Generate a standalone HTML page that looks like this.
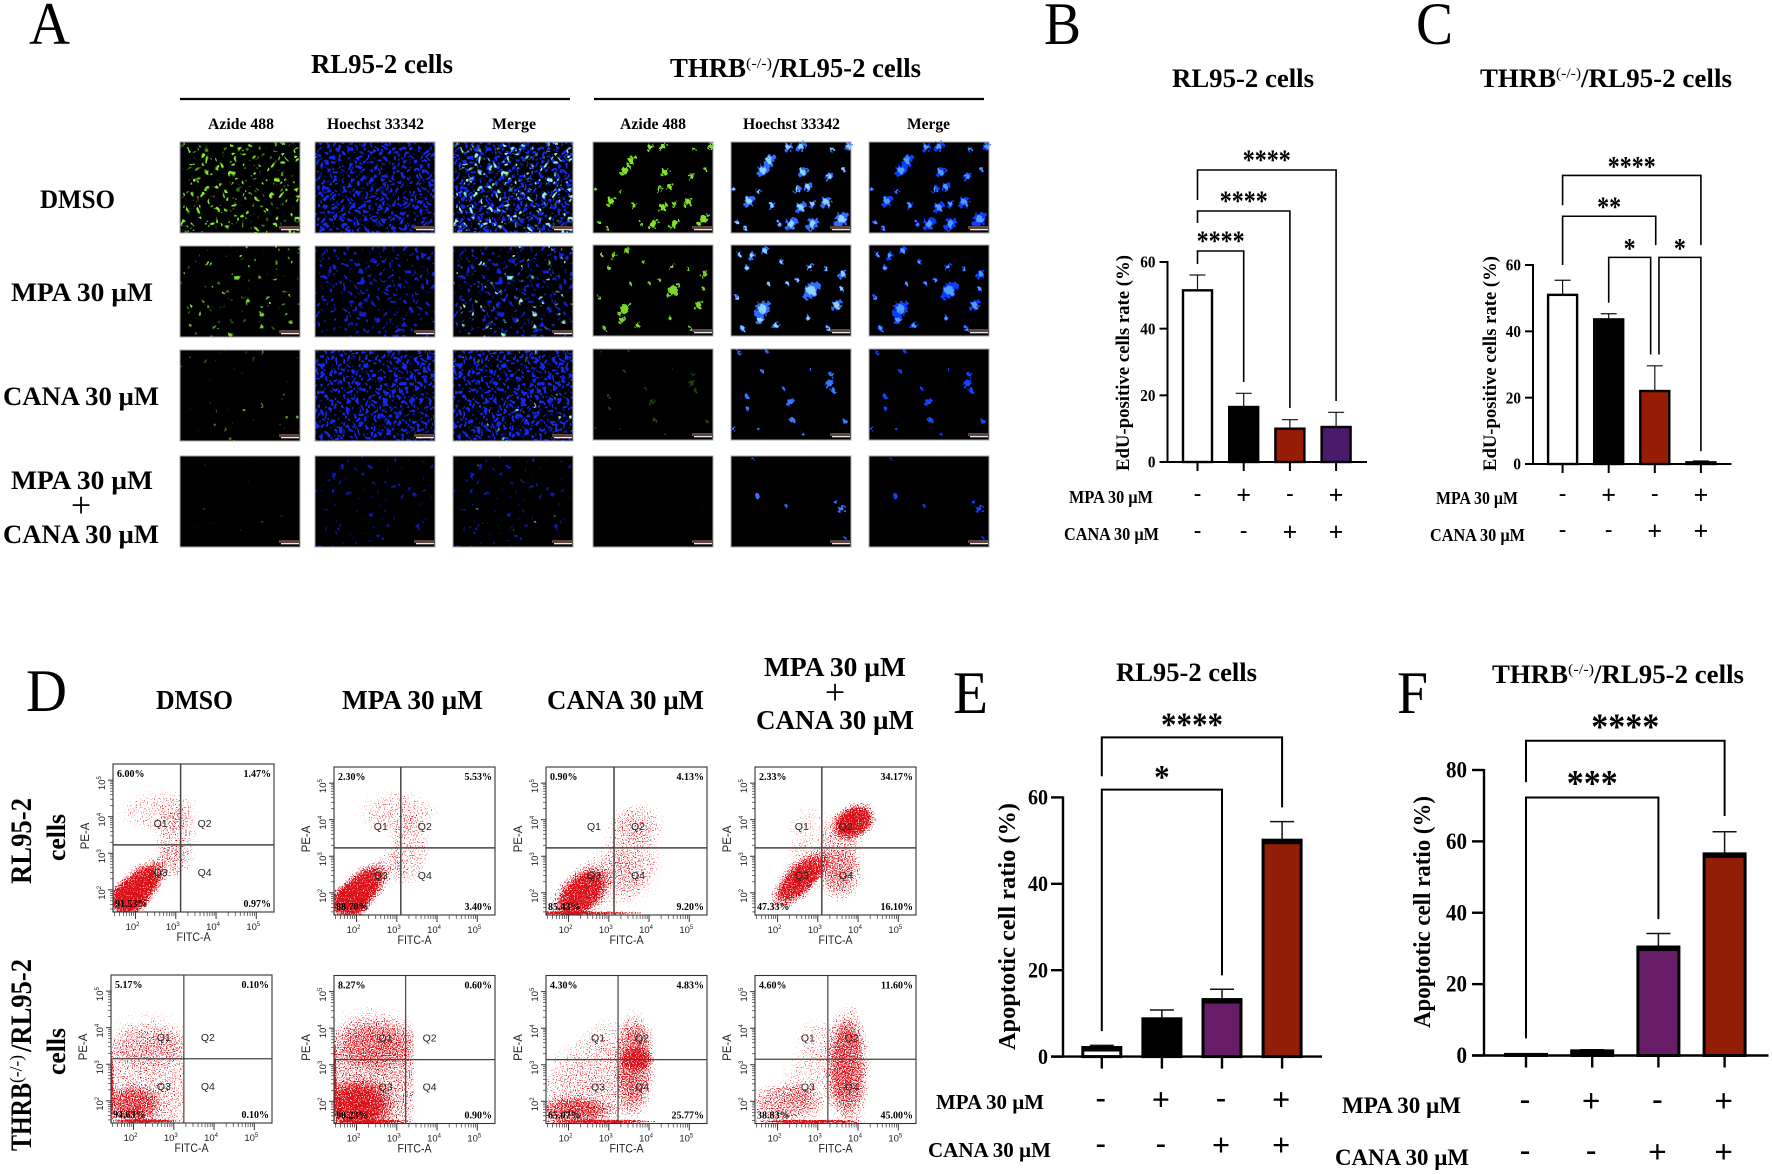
<!DOCTYPE html>
<html lang="en">
<head>
<meta charset="utf-8">
<title>EdU proliferation and apoptosis figure</title>
<style>
html,body{margin:0;padding:0;background:#fff;width:1772px;height:1174px;overflow:hidden}
svg{display:block}
svg text{font-family:"Liberation Serif","Noto Serif CJK SC",serif;font-weight:bold;fill:#000}
svg text.plain{font-weight:normal}
svg text.sans{font-family:"Liberation Sans","Noto Sans CJK SC",sans-serif;font-weight:normal;fill:#222}
</style>
</head>
<body>
<svg id="figure" xmlns="http://www.w3.org/2000/svg" width="1772" height="1174" viewBox="0 0 1772 1174">
<defs id="defs">
<radialGradient id="density-falloff"><stop offset="0" stop-color="#fff" stop-opacity="1"/><stop offset="0.55" stop-color="#fff" stop-opacity="0.85"/><stop offset="1" stop-color="#fff" stop-opacity="0"/></radialGradient>
<filter id="rough-edge" x="-5%" y="-5%" width="110%" height="110%"><feTurbulence type="fractalNoise" baseFrequency="0.35" numOctaves="1" seed="4" result="n"/><feDisplacementMap in="SourceGraphic" in2="n" scale="7"/></filter>
<clipPath id="panel-clip"><rect width="120" height="91"/></clipPath>
</defs>
<rect width="1772" height="1174" fill="#fff"/>

<text class="plain" x="29" y="44" font-size="60" textLength="41" lengthAdjust="spacingAndGlyphs">A</text>
<text class="plain" x="1044" y="44" font-size="60" textLength="37" lengthAdjust="spacingAndGlyphs">B</text>
<text class="plain" x="1416" y="44" font-size="60" textLength="37" lengthAdjust="spacingAndGlyphs">C</text>
<text class="plain" x="26" y="711" font-size="60" textLength="41" lengthAdjust="spacingAndGlyphs">D</text>
<text class="plain" x="953" y="713" font-size="60" textLength="35" lengthAdjust="spacingAndGlyphs">E</text>
<text class="plain" x="1397" y="713" font-size="60" textLength="31" lengthAdjust="spacingAndGlyphs">F</text>

<text x="311" y="73" font-size="27" textLength="142" lengthAdjust="spacingAndGlyphs">RL95-2 cells</text>
<g>
<text x="670" y="77" font-size="27" textLength="76" lengthAdjust="spacingAndGlyphs">THRB</text>
<text class="plain" x="746" y="68" font-size="15" textLength="26" lengthAdjust="spacingAndGlyphs">(-/-)</text>
<text x="772" y="77" font-size="27" textLength="149" lengthAdjust="spacingAndGlyphs">/RL95-2 cells</text>
</g>
<line x1="180" x2="570" y1="99" y2="99" stroke="#000" stroke-width="2.2"/>
<line x1="594" x2="984" y1="99" y2="99" stroke="#000" stroke-width="2.2"/>

<text x="208" y="129" font-size="15.5" textLength="66" lengthAdjust="spacingAndGlyphs">Azide 488</text>
<text x="327" y="129" font-size="15.5" textLength="97" lengthAdjust="spacingAndGlyphs">Hoechst 33342</text>
<text x="492" y="129" font-size="15.5" textLength="44" lengthAdjust="spacingAndGlyphs">Merge</text>
<text x="620" y="129" font-size="15.5" textLength="66" lengthAdjust="spacingAndGlyphs">Azide 488</text>
<text x="743" y="129" font-size="15.5" textLength="97" lengthAdjust="spacingAndGlyphs">Hoechst 33342</text>
<text x="907" y="129" font-size="15.5" textLength="43" lengthAdjust="spacingAndGlyphs">Merge</text>

<text x="40" y="208" font-size="26" textLength="75" lengthAdjust="spacingAndGlyphs">DMSO</text>
<text x="11" y="301" font-size="26" textLength="142" lengthAdjust="spacingAndGlyphs">MPA 30 µM</text>
<text x="3" y="405" font-size="26" textLength="156" lengthAdjust="spacingAndGlyphs">CANA 30 µM</text>
<text x="11" y="489" font-size="26" textLength="142" lengthAdjust="spacingAndGlyphs">MPA 30 µM</text>
<text class="plain" x="81" y="517" font-size="36" text-anchor="middle">+</text>
<text x="3" y="543" font-size="26" textLength="156" lengthAdjust="spacingAndGlyphs">CANA 30 µM</text>

<text x="1172" y="87" font-size="26" textLength="142" lengthAdjust="spacingAndGlyphs">RL95-2 cells</text>
<g>
<text x="1480" y="87" font-size="26" textLength="76" lengthAdjust="spacingAndGlyphs">THRB</text>
<text class="plain" x="1556" y="78" font-size="15" textLength="25" lengthAdjust="spacingAndGlyphs">(-/-)</text>
<text x="1581" y="87" font-size="26" textLength="151" lengthAdjust="spacingAndGlyphs">/RL95-2 cells</text>
</g>
<text transform="translate(1129,471) rotate(-90)" font-size="19" textLength="216" lengthAdjust="spacingAndGlyphs">EdU-positive cells rate (%)</text>
<text transform="translate(1496,471) rotate(-90)" font-size="19" textLength="215" lengthAdjust="spacingAndGlyphs">EdU-positive cells rate (%)</text>
<text x="1069" y="503" font-size="18" textLength="84" lengthAdjust="spacingAndGlyphs">MPA 30 µM</text>
<text x="1064" y="540" font-size="18" textLength="95" lengthAdjust="spacingAndGlyphs">CANA 30 µM</text>
<text x="1436" y="504" font-size="18" textLength="82" lengthAdjust="spacingAndGlyphs">MPA 30 µM</text>
<text x="1430" y="541" font-size="18" textLength="95" lengthAdjust="spacingAndGlyphs">CANA 30 µM</text>

<text x="156" y="709" font-size="27" textLength="77" lengthAdjust="spacingAndGlyphs">DMSO</text>
<text x="342" y="709" font-size="27" textLength="141" lengthAdjust="spacingAndGlyphs">MPA 30 µM</text>
<text x="547" y="709" font-size="27" textLength="157" lengthAdjust="spacingAndGlyphs">CANA 30 µM</text>
<text x="764" y="676" font-size="27" textLength="142" lengthAdjust="spacingAndGlyphs">MPA 30 µM</text>
<text class="plain" x="835" y="704" font-size="36" text-anchor="middle">+</text>
<text x="756" y="729" font-size="27" textLength="158" lengthAdjust="spacingAndGlyphs">CANA 30 µM</text>

<text transform="translate(31,884) rotate(-90)" font-size="30" textLength="86" lengthAdjust="spacingAndGlyphs">RL95-2</text>
<text transform="translate(65,861) rotate(-90)" font-size="26" textLength="47" lengthAdjust="spacingAndGlyphs">cells</text>
<g>
<text transform="translate(31,1151) rotate(-90)" font-size="30" textLength="68" lengthAdjust="spacingAndGlyphs">THRB</text>
<text class="plain" transform="translate(22,1083) rotate(-90)" font-size="18" textLength="28" lengthAdjust="spacingAndGlyphs">(-/-)</text>
<text transform="translate(31,1052) rotate(-90)" font-size="30" textLength="93" lengthAdjust="spacingAndGlyphs">/RL95-2</text>
</g>
<text transform="translate(65,1075) rotate(-90)" font-size="26" textLength="47" lengthAdjust="spacingAndGlyphs">cells</text>

<text x="1116" y="681" font-size="26" textLength="141" lengthAdjust="spacingAndGlyphs">RL95-2 cells</text>
<g>
<text x="1492" y="683" font-size="26" textLength="76" lengthAdjust="spacingAndGlyphs">THRB</text>
<text class="plain" x="1568" y="674" font-size="15" textLength="26" lengthAdjust="spacingAndGlyphs">(-/-)</text>
<text x="1594" y="683" font-size="26" textLength="150" lengthAdjust="spacingAndGlyphs">/RL95-2 cells</text>
</g>
<text transform="translate(1015,1050) rotate(-90)" font-size="24" textLength="247" lengthAdjust="spacingAndGlyphs">Apoptotic cell ratio (%)</text>
<text transform="translate(1430,1028) rotate(-90)" font-size="24" textLength="232" lengthAdjust="spacingAndGlyphs">Apoptotic cell ratio (%)</text>
<text x="936" y="1109" font-size="21" textLength="108" lengthAdjust="spacingAndGlyphs">MPA 30 µM</text>
<text x="928" y="1157" font-size="21" textLength="123" lengthAdjust="spacingAndGlyphs">CANA 30 µM</text>
<text x="1342" y="1113" font-size="23" textLength="119" lengthAdjust="spacingAndGlyphs">MPA 30 µM</text>
<text x="1335" y="1165" font-size="23" textLength="134" lengthAdjust="spacingAndGlyphs">CANA 30 µM</text>

<g id="microscopy-layer"></g>
<g id="flow-layer"></g>
<g id="bar-layer"></g>
</svg>

<script>
// ---------- Panels B, C, E, F: bar chart data ----------
const mpaSigns = ['-', '+', '-', '+'];
const canaSigns = ['-', '-', '+', '+'];

const panelBValues = [51.5, 16.5, 10, 10.5];
const panelBErrors = [4.6, 4.1, 2.7, 4.4];
const panelBTicks = [0, 20, 40, 60];
const panelBBrackets = [[0, 1, 63.3, 59.4, 24, '****'], [0, 2, 75.3, 71.7, 16.2, '****'], [0, 3, 87.6, 78.6, 18.3, '****']];

const panelCValues = [51, 43.6, 22, 0.5];
const panelCErrors = [4.4, 1.7, 7.6, 0.4];
const panelCTicks = [0, 20, 40, 60];
const panelCBrackets = [[0, 3, 87, 78, 66, '****'], [0, 2.02, 74.7, 60, 66, '**'], [1, 1.91, 62.3, 48.6, 33, '*'], [2.09, 3, 62.3, 33, 3.9, '*']];

const panelEValues = [2.1, 8.75, 13.2, 50.1];
const panelEErrors = [0.5, 2.05, 2.4, 4.3];
const panelETicks = [0, 20, 40, 60];
const panelEBrackets = [[0, 3, 73.9, 64.9, 57.7, '****'], [0, 2, 61.8, 5.9, 18.8, '*']];

const panelFValues = [0.3, 1.3, 30.4, 56.5];
const panelFErrors = [0.2, 0.3, 3.8, 6.2];
const panelFTicks = [0, 20, 40, 60, 80];
const panelFBrackets = [[0, 3, 88.2, 76.6, 67.1, '****'], [0, 2, 72.3, 4.8, 38.2, '***']];

// ---------- Panel D: flow cytometry data (log10 FITC, log10 PE, spread x, spread y, tilt, density) ----------
const flowDecades = [2, 3, 4, 5];
const rl95DmsoClusters = [[2.09, 2.08, 0.95, 0.5, -45, 1], [1.8, 1.75, 0.6, 0.5, 0, 0.9], [2.6, 4.15, 1.15, 0.6, 0, 0.25], [3.0, 3.4, 0.6, 1.0, 0, 0.3], [2.85, 2.75, 0.55, 0.55, 0, 0.22]];
const rl95MpaClusters = [[2.12, 2.1, 0.95, 0.5, -45, 1], [1.8, 1.75, 0.6, 0.5, 0, 0.9], [3.05, 4.2, 1.15, 0.6, 0, 0.28], [3.3, 3.15, 0.6, 1.05, 0, 0.28], [2.85, 2.7, 0.5, 0.5, 0, 0.2]];
const rl95CanaClusters = [[2.3, 1.95, 1.0, 0.6, -45, 0.95], [1.95, 1.45, 2.4, 0.05, 0, 0.9], [3.6, 3.0, 0.85, 1.3, 0, 0.3], [3.7, 3.9, 0.8, 0.6, 0, 0.22], [3.0, 2.4, 1.0, 0.9, 0, 0.24]];
const rl95ComboClusters = [[2.55, 2.35, 1.05, 0.45, -45, 0.95], [3.9, 3.95, 0.65, 0.48, -30, 1], [3.55, 3.05, 0.65, 1.2, 0, 0.38], [3.5, 2.5, 0.65, 0.8, 0, 0.32], [2.8, 3.7, 0.65, 0.75, 0, 0.18], [2.6, 2.8, 0.5, 0.6, 0, 0.22]];
const thrbDmsoClusters = [[2.4, 2.6, 1.6, 1.9, 0, 0.34], [2.0, 1.9, 0.8, 0.55, 0, 0.6], [2.4, 3.5, 1.3, 0.6, 0, 0.24], [2.3, 1.45, 1.0, 0.05, 0, 1], [1.46, 2.4, 0.05, 1.0, 0, 0.9]];
const thrbMpaClusters = [[2.4, 2.6, 1.7, 2.0, 0, 0.46], [2.0, 1.9, 1.0, 0.7, 0, 0.8], [2.5, 3.6, 1.3, 0.75, 0, 0.38], [2.4, 1.45, 1.1, 0.05, 0, 1], [1.46, 2.6, 0.05, 1.1, 0, 0.9]];
const thrbCanaClusters = [[3.65, 3.0, 0.55, 1.5, 0, 0.56], [2.6, 2.4, 1.5, 1.3, 0, 0.34], [2.1, 1.75, 1.1, 0.4, 0, 0.6], [3.2, 3.7, 1.1, 0.6, 0, 0.22], [3.7, 3.15, 0.45, 0.35, 0, 0.7], [2.8, 1.45, 1.6, 0.05, 0, 1]];
const thrbComboClusters = [[3.75, 2.9, 0.6, 1.7, 0, 0.66], [2.2, 1.95, 1.0, 0.6, 0, 0.5], [3, 2.6, 1.0, 1.0, 0, 0.24], [3.3, 3.7, 1.0, 0.6, 0, 0.22], [2.8, 1.45, 1.6, 0.05, 0, 1]];
const flowGateX = [3.12, 3.10, 3.13, 3.10, 3.25, 3.22, 3.23, 3.25];
const flowGateY = [3.23, 3.23, 3.23, 3.23, 3.15, 3.14, 3.14, 3.15];
const flowEventLimitX = [5.5, 5.5, 5.5, 5.5, 3.27, 3.42, 4.25, 4.35];
const flowQ1Labels = ['6.00%', '2.30%', '0.90%', '2.33%', '5.17%', '8.27%', '4.30%', '4.60%'];
const flowQ2Labels = ['1.47%', '5.53%', '4.13%', '34.17%', '0.10%', '0.60%', '4.83%', '11.60%'];
const flowQ3Labels = ['91.53%', '88.70%', '85.43%', '47.33%', '94.63%', '90.23%', '65.07%', '38.83%'];
const flowQ4Labels = ['0.97%', '3.40%', '9.20%', '16.10%', '0.10%', '0.90%', '25.77%', '45.00%'];

// ---------- Panel A: microscopy field estimates ----------
const rl95HoechstSpacing = [9, 11, 9, 15];
const rl95HoechstCutoff = [0.34, 0.42, 0.32, 0.5];
const rl95AzideSpacing = [10, 12, 13, 14];
const rl95AzideCutoff = [0.49, 0.57, 0.63, 0.7];
const rl95HoechstLevel = ['#1128ee', '#0f22d8', '#1128ee', '#0d1cc0'];
const rl95AzideLevel = ['#86f02a', '#78dc26', '#5fb01e', '#3f7a14'];
const thrbFieldDmso = [[32,20,5],[27,31,5],[48,6,3.5],[58,5,4],[60,33,4],[82,38,3.5],[64,49,3.5],[55,52,3],[15,65,4.5],[34,70,3],[58,72,4.5],[79,66,4.5],[92,85,6],[50,90,5],[68,90,5],[23,54,2.5],[2,52,2],[94,30,2.5],[98,5,3],[84,8,2.5],[40,90,2.5],[12,95,2.5],[5,88,2],[68,68,3]];
const thrbFieldMpa = [[7,10,2.5],[17,12,3],[28,6,3],[42,18,2.5],[66,24,3],[79,26,2.5],[93,32,3.5],[67,50,7],[26,70,6.5],[88,66,4.5],[5,58,2.5],[24,82,3.5],[64,80,2.5],[37,88,3],[10,92,2.5],[47,42,2],[31,42,2],[92,48,2.5],[81,92,2.5],[13,25,2.5],[55,38,2]];
const thrbFieldCana = [[82,38,3.5],[84,28,2.5],[85,45,2.5],[49,58,3],[13,52,2],[14,66,2],[51,78,2.5],[2,87,2],[23,88,1.5],[95,80,2.5],[44,44,1.5],[26,24,1.5],[66,22,1.5],[7,4,2],[60,94,1.5],[30,3,1.5]];
const thrbFieldCombo = [[22,44,2.5],[92,58,3],[46,55,1.5],[87,50,2],[18,3,1],[95,90,1]];
const thrbAzideStrength = [1, 0.95, 0.3, 0.03];
const thrbBrightBlue = [1, 1, 0.15, 0.1];

// ---------- helpers ----------
const SVGNS = 'http://www.w3.org/2000/svg';
function mk(tag, parent, attrs) {
  const el = document.createElementNS(SVGNS, tag);
  for (const k in attrs) el.setAttribute(k, attrs[k]);
  parent.appendChild(el);
  return el;
}
function line(parent, name, x1, y1, x2, y2, stroke, width) {
  const el = mk('line', parent, { x1: x1, y1: y1, x2: x2, y2: y2, stroke: stroke, 'stroke-width': width });
  
  
  return el;
}
function label(parent, name, str, x, y, size, extra) {
  const el = mk('text', parent, Object.assign({ x: x, y: y, 'font-size': size }, extra || {}));
  el.textContent = str;
  
  
  return el;
}
function group(parent, name, attrs) {
  const el = mk('g', parent, attrs || {});
  
  
  return el;
}
const defs = document.getElementById('defs');
let filterCount = 0;
function speckFilter(color, freq, seed, slope) {
  const id = 'speck-' + (filterCount++);
  const f = mk('filter', defs, { id: id, x: 0, y: 0, width: '100%', height: '100%', 'color-interpolation-filters': 'sRGB' });
  f.innerHTML =
    '<feTurbulence type="fractalNoise" baseFrequency="' + freq + '" numOctaves="1" seed="' + seed + '" result="n"/>' +
    '<feColorMatrix in="n" type="matrix" values="0 0 0 0 0  0 0 0 0 0  0 0 0 0 0  2.2 0 0 0 -0.6" result="na"/>' +
    '<feComposite in="SourceAlpha" in2="na" operator="arithmetic" k1="0" k2="1" k3="1" k4="-1" result="s"/>' +
    '<feComponentTransfer in="s" result="h"><feFuncA type="linear" slope="' + slope + '"/></feComponentTransfer>' +
    '<feFlood flood-color="' + color + '" result="c"/>' +
    '<feComposite in="c" in2="h" operator="in"/>';
  return 'url(#' + id + ')';
}
// Scatter a staggered dot lattice with low-frequency noise, then switch dots on/off: a nuclei monolayer look.
function nucleiFilter(color, seed, cutoff) {
  const id = 'nuclei-' + (filterCount++);
  const f = mk('filter', defs, { id: id, x: 0, y: 0, width: '100%', height: '100%', 'color-interpolation-filters': 'sRGB' });
  f.innerHTML =
    '<feTurbulence type="fractalNoise" baseFrequency="0.17" numOctaves="1" seed="' + seed + '" result="d"/>' +
    '<feDisplacementMap in="SourceAlpha" in2="d" scale="14" xChannelSelector="R" yChannelSelector="G" result="p"/>' +
    '<feTurbulence type="fractalNoise" baseFrequency="0.14" numOctaves="1" seed="' + (seed + 7) + '" result="m"/>' +
    '<feColorMatrix in="m" type="matrix" values="0 0 0 0 0  0 0 0 0 0  0 0 0 0 0  8 0 0 0 ' + (-8 * cutoff) + '" result="ma"/>' +
    '<feComposite in="p" in2="ma" operator="in" result="on"/>' +
    '<feFlood flood-color="' + color + '" result="c"/>' +
    '<feComposite in="c" in2="on" operator="in"/>';
  return 'url(#' + id + ')';
}
const patterns = {};
function dotPattern(spacing) {
  const id = 'dots-' + spacing;
  if (!patterns[id]) {
    const p = mk('pattern', defs, { id: id, width: spacing, height: spacing, patternUnits: 'userSpaceOnUse' });
    mk('ellipse', p, { cx: spacing * 0.25, cy: spacing * 0.25, rx: 1.8, ry: 2.2, fill: '#fff' });
    mk('ellipse', p, { cx: spacing * 0.75, cy: spacing * 0.75, rx: 1.8, ry: 2.2, fill: '#fff' });
    patterns[id] = 'url(#' + id + ')';
  }
  return patterns[id];
}

// ---------- Panel A ----------
const microLayer = document.getElementById('microscopy-layer');
const PANEL_W = 120, PANEL_H = 91;
const leftCols = [180, 315, 453], rightCols = [593, 731, 869];
const leftRows = [142, 246, 350, 456], rightRows = [142, 245, 349, 456];
const rowNames = ['dmso', 'mpa', 'cana', 'combo'];
const colNames = ['azide', 'hoechst', 'merge'];
const thrbFields = [thrbFieldDmso, thrbFieldMpa, thrbFieldCana, thrbFieldCombo];

function panelFrame(name, x, y) {
  const g = group(microLayer, name, { transform: 'translate(' + x + ',' + y + ')' });
  const bg = mk('rect', g, { width: PANEL_W, height: PANEL_H, fill: '#000' });
  
  
  return g;
}
function panelFinish(g) {
  const tag = mk('rect', g, { x: PANEL_W - 21, y: PANEL_H - 7, width: 20, height: 3, fill: '#5e4540' });
  
  
  const bar = mk('rect', g, { x: PANEL_W - 19, y: PANEL_H - 4, width: 18, height: 1.3, fill: '#e8e8e8' });
  
  
  const border = mk('rect', g, { width: PANEL_W, height: PANEL_H, fill: 'none', stroke: '#aaa', 'stroke-width': 1 });
  
  
}
function nucleiLayer(g, name, spacing, cutoff, color, seed) {
  const clipped = group(g, name + '-clip', { 'clip-path': 'url(#panel-clip)' });
  const layer = group(clipped, name, { filter: nucleiFilter(color, seed, cutoff) });
  const r = mk('rect', layer, { x: -8, y: -8, width: PANEL_W + 16, height: PANEL_H + 16, fill: dotPattern(spacing) });
  
  
}
function colony(parent, name, cx, cy, rx, ry, fill, opacity) {
  const e = mk('ellipse', parent, { cx: cx, cy: cy, rx: rx, ry: ry, fill: fill, 'fill-opacity': opacity });
  
  
}
rowNames.forEach(function (rowName, r) {
  // RL95-2 fields: dense monolayer textures
  leftCols.forEach(function (x, c) {
    const g = panelFrame('rl95-' + rowName + '-' + colNames[c], x, leftRows[r]);
    if (c !== 0) nucleiLayer(g, 'hoechst-signal', rl95HoechstSpacing[r], rl95HoechstCutoff[r], rl95HoechstLevel[r], 11 + r);
    if (c !== 1) nucleiLayer(g, 'azide-signal', rl95AzideSpacing[r], rl95AzideCutoff[r], c === 0 ? rl95AzideLevel[r] : '#8ff2de', 21 + r);
    panelFinish(g);
  });
  // THRB knockout fields: clumped colonies
  rightCols.forEach(function (x, c) {
    const g = panelFrame('thrb-' + rowName + '-' + colNames[c], x, rightRows[r]);
    const field = group(g, 'colonies', { filter: 'url(#rough-edge)' });
    thrbFields[r].forEach(function (b) {
      const cx = b[0] / 100 * PANEL_W, cy = b[1] / 100 * PANEL_H, rad = b[2] * 1.1;
      if (c === 0) {
        colony(field, 'colony-azide', cx, cy, rad * 0.55, rad * 0.7, '#7fe32a', thrbAzideStrength[r]);
        if (rad > 3) {
          colony(field, 'colony-azide-lobe', cx + rad * 0.7, cy - rad * 0.6, rad * 0.25, rad * 0.3, '#7fe32a', thrbAzideStrength[r]);
          colony(field, 'colony-azide-lobe', cx - rad * 0.65, cy + rad * 0.7, rad * 0.28, rad * 0.28, '#7fe32a', thrbAzideStrength[r]);
        }
      } else {
        const outer = c === 1 ? '#2f6dff' : '#0f3cff';
        const inner = c === 1 ? '#8fd4ff' : '#4f9dff';
        colony(field, 'colony-nuclei', cx, cy, rad * 0.85, rad, outer, 1);
        if (rad > 3) {
          colony(field, 'colony-lobe', cx + rad * 0.7, cy - rad * 0.6, rad * 0.5, rad * 0.5, outer, 1);
          colony(field, 'colony-lobe', cx - rad * 0.65, cy + rad * 0.7, rad * 0.5, rad * 0.45, outer, 1);
        }
        if (rad > 2) colony(field, 'colony-core', cx, cy, rad * 0.55, rad * 0.65, inner, thrbBrightBlue[r]);
      }
    });
    panelFinish(g);
  });
});

// ---------- Panel D ----------
const flowLayer = document.getElementById('flow-layer');
const FLOW_W = 161, FLOW_H = 148;
const flowSets = [rl95DmsoClusters, rl95MpaClusters, rl95CanaClusters, rl95ComboClusters, thrbDmsoClusters, thrbMpaClusters, thrbCanaClusters, thrbComboClusters];
const flowFrameX = [113, 334, 546, 755, 111, 334, 546, 755];
const flowFrameY = [764, 767, 767, 767, 975, 975.5, 975.5, 975.5];
const flowNames = ['rl95-dmso', 'rl95-mpa', 'rl95-cana', 'rl95-combo', 'thrb-dmso', 'thrb-mpa', 'thrb-cana', 'thrb-combo'];
function flowX(v) { return (0.14 + (v - 2) * 0.25) * FLOW_W; }
function flowY(v) { return (0.85 - (v - 2) * 0.247) * FLOW_H; }

flowSets.forEach(function (clusters, p) {
  const name = 'flow-plot-' + flowNames[p];
  const g = group(flowLayer, name, { transform: 'translate(' + flowFrameX[p] + ',' + flowFrameY[p] + ')' });
  const clipId = 'flow-clip-' + p;
  const clip = mk('clipPath', defs, { id: clipId });
  mk('rect', clip, { width: Math.min(FLOW_W, flowX(flowEventLimitX[p])), height: FLOW_H });
  const clipped = group(g, name + '-clip', { 'clip-path': 'url(#' + clipId + ')' });
  const cloud = group(clipped, name + '-events', { filter: speckFilter('#dc1018', 0.85, 40 + p, 6) });
  const catcher = mk('rect', cloud, { width: FLOW_W, height: FLOW_H, fill: '#fff', 'fill-opacity': 0.001 });
  
  
  clusters.forEach(function (c, i) {
    const cx = flowX(c[0]), cy = flowY(c[1]);
    const e = mk('ellipse', cloud, { cx: cx, cy: cy, rx: c[2] * 0.25 * FLOW_W, ry: c[3] * 0.25 * FLOW_W, fill: 'url(#density-falloff)', 'fill-opacity': c[5], transform: 'rotate(' + c[4] + ' ' + cx + ' ' + cy + ')' });
    
    
  });
  const frame = mk('rect', g, { width: FLOW_W, height: FLOW_H, fill: 'none', stroke: '#333', 'stroke-width': 1.1 });
  
  
  const gx = flowX(flowGateX[p]), gy = flowY(flowGateY[p]);
  const gateW = p < 4 ? 1.5 : 1.2;
  line(g, 'gate-vertical', gx, 0, gx, FLOW_H, '#444', gateW);
  line(g, 'gate-horizontal', 0, gy, FLOW_W, gy, '#444', gateW);

  // axis ticks
  flowDecades.concat([1]).forEach(function (d) {
    if (d < 5) {
      for (let m = 2; m <= 9; m++) {
        const lv = d + Math.log10(m);
        if (flowX(lv) > 0 && flowX(lv) < FLOW_W) line(g, 'x-minor-tick', flowX(lv), FLOW_H, flowX(lv), FLOW_H + 4, '#333', 0.7);
        if (flowY(lv) > 0 && flowY(lv) < FLOW_H) line(g, 'y-minor-tick', -3, flowY(lv), 0, flowY(lv), '#333', 0.7);
      }
    }
  });
  flowDecades.forEach(function (d) {
    line(g, 'x-major-tick', flowX(d), FLOW_H, flowX(d), FLOW_H + 7, '#333', 1);
    line(g, 'y-major-tick', -5, flowY(d), 0, flowY(d), '#333', 1);
    const xl = label(g, 'x-tick-label', '10', flowX(d) - 3, FLOW_H + 18, 9.5, { class: 'sans', 'text-anchor': 'middle' });
    const xs = mk('tspan', xl, { dy: -4, 'font-size': 6 });
    xs.textContent = d;
    const yl = label(g, 'y-tick-label', '10', 0, 0, 9.5, { class: 'sans', 'text-anchor': 'middle', transform: 'translate(-8,' + (flowY(d) + 3) + ') rotate(-90)' });
    const ys = mk('tspan', yl, { dy: -4, 'font-size': 6 });
    ys.textContent = d;
  });
  label(g, 'x-axis-title', 'FITC-A', FLOW_W / 2, FLOW_H + 29, 11.5, { class: 'sans', 'text-anchor': 'middle', textLength: 34, lengthAdjust: 'spacingAndGlyphs' });
  label(g, 'y-axis-title', 'PE-A', 0, 0, 11.5, { class: 'sans', 'text-anchor': 'middle', transform: 'translate(-24,' + (FLOW_H / 2 - 2) + ') rotate(-90)' });

  // quadrant names
  label(g, 'quadrant-q1', 'Q1', gx - 20, gy - 18, 10.5, { class: 'sans', 'text-anchor': 'middle' });
  label(g, 'quadrant-q2', 'Q2', gx + 24, gy - 18, 10.5, { class: 'sans', 'text-anchor': 'middle' });
  label(g, 'quadrant-q3', 'Q3', gx - 20, gy + 31, 10.5, { class: 'sans', 'text-anchor': 'middle' });
  label(g, 'quadrant-q4', 'Q4', gx + 24, gy + 31, 10.5, { class: 'sans', 'text-anchor': 'middle' });
  // quadrant percentages
  label(g, 'quadrant-percent-q1', flowQ1Labels[p], 4, 13, 10);
  label(g, 'quadrant-percent-q2', flowQ2Labels[p], FLOW_W - 3, 13, 10, { 'text-anchor': 'end' });
  label(g, 'quadrant-percent-q3', flowQ3Labels[p], 2, FLOW_H - 5, 10);
  label(g, 'quadrant-percent-q4', flowQ4Labels[p], FLOW_W - 3, FLOW_H - 5, 10, { 'text-anchor': 'end' });
});

// ---------- Bar charts ----------
const barLayer = document.getElementById('bar-layer');
function drawBarChart(cfg) {
  const g = group(barLayer, cfg.id);
  const maxTick = cfg.ticks[cfg.ticks.length - 1];
  function yScale(v) { return cfg.y0 - v * (cfg.y0 - cfg.yTop) / maxTick; }
  function xScale(i) { return cfg.x0 + i * cfg.step; }

  cfg.values.forEach(function (v, i) {
    const top = yScale(v), h = cfg.y0 - top;
    const errTop = yScale(v + cfg.errors[i]);
    line(g, cfg.id + '-error-stem-' + i, xScale(i), top, xScale(i), errTop, '#111', cfg.errW);
    line(g, cfg.id + '-error-cap-' + i, xScale(i) - cfg.capW, errTop, xScale(i) + cfg.capW, errTop, '#111', cfg.errW);
    const bar = mk('rect', g, { x: xScale(i) - cfg.barW / 2, y: top, width: cfg.barW, height: h, fill: cfg.colors[i], stroke: '#000', 'stroke-width': cfg.barStroke });
    
    
    if (cfg.topBand && h > cfg.topBand) {
      const band = mk('rect', g, { x: xScale(i) - cfg.barW / 2, y: top, width: cfg.barW, height: cfg.topBand, fill: '#000' });
      
      
    }
    line(g, cfg.id + '-x-tick-' + i, xScale(i), cfg.y0, xScale(i), cfg.y0 + cfg.xTick, '#000', cfg.axisW);
  });

  line(g, cfg.id + '-y-axis', cfg.axisX, yScale(maxTick) - 1, cfg.axisX, cfg.y0, '#000', cfg.axisW);
  line(g, cfg.id + '-x-axis', cfg.axisX - cfg.yTick, cfg.y0, cfg.axisEnd, cfg.y0, '#000', cfg.axisW);
  cfg.ticks.forEach(function (t) {
    line(g, cfg.id + '-y-tick-' + t, cfg.axisX - cfg.yTick, yScale(t), cfg.axisX, yScale(t), '#000', cfg.axisW);
    label(g, cfg.id + '-y-tick-label-' + t, String(t), cfg.axisX - cfg.labelGap, yScale(t) + cfg.tickFont * 0.33, cfg.tickFont, { 'text-anchor': 'end', textLength: String(t).length * cfg.digitW, lengthAdjust: 'spacingAndGlyphs' });
  });

  cfg.brackets.forEach(function (b, i) {
    const xl = xScale(b[0]), xr = xScale(b[1]);
    const path = mk('path', g, { d: 'M' + xl + ' ' + yScale(b[3]) + 'V' + yScale(b[2]) + 'H' + xr + 'V' + yScale(b[4]), fill: 'none', stroke: '#000', 'stroke-width': cfg.bracketW });
    
    
    const stars = b[5];
    label(g, cfg.id + '-significance-stars-' + i, stars, (xl + xr) / 2, yScale(b[2]) - cfg.starGap + cfg.starFont * 0.48, cfg.starFont, { 'text-anchor': 'middle', textLength: stars.length * cfg.starW, lengthAdjust: 'spacingAndGlyphs' });
  });

  [[mpaSigns, cfg.mpaY, 'mpa'], [canaSigns, cfg.canaY, 'cana']].forEach(function (row) {
    row[0].forEach(function (s, i) {
      const isPlus = s === '+';
      const size = isPlus ? cfg.plusFont : cfg.minusFont;
      label(g, cfg.id + '-' + row[2] + '-sign-' + i, s, xScale(i) + cfg.signDx, row[1] + size * (isPlus ? 0.28 : 0.2), size, { 'text-anchor': 'middle' });
    });
  });
}

const RED_B = '#971c06', PURPLE_B = '#4a1a6b', PURPLE_E = '#661c66', RED_E = '#931e08';
drawBarChart({ id: 'panel-b', values: panelBValues, errors: panelBErrors, ticks: panelBTicks, brackets: panelBBrackets, colors: ['#fff', '#000', RED_B, PURPLE_B],
  x0: 1197.5, step: 46.2, y0: 462, yTop: 262, axisX: 1167.5, axisEnd: 1367, yTick: 8, xTick: 9, labelGap: 12, tickFont: 17, digitW: 7.6,
  barW: 29, barStroke: 2.4, capW: 8, errW: 1.2, axisW: 2, bracketW: 1.6, starFont: 28, starW: 12, starGap: 14, plusFont: 26, minusFont: 22, mpaY: 496, canaY: 533, signDx: 0 });
drawBarChart({ id: 'panel-c', values: panelCValues, errors: panelCErrors, ticks: panelCTicks, brackets: panelCBrackets, colors: ['#fff', '#000', RED_B, PURPLE_B],
  x0: 1562.6, step: 46.1, y0: 464, yTop: 265, axisX: 1533, axisEnd: 1731.5, yTick: 8, xTick: 9, labelGap: 12, tickFont: 17, digitW: 7.6,
  barW: 29, barStroke: 2.4, capW: 8, errW: 1.2, axisW: 2, bracketW: 1.6, starFont: 28, starW: 12, starGap: 13, plusFont: 26, minusFont: 22, mpaY: 496, canaY: 532, signDx: 0 });
drawBarChart({ id: 'panel-e', values: panelEValues, errors: panelEErrors, ticks: panelETicks, brackets: panelEBrackets, colors: ['#fff', '#000', PURPLE_E, RED_E],
  x0: 1101.8, step: 60.1, y0: 1056.6, yTop: 797.4, axisX: 1063, axisEnd: 1322, yTick: 12, xTick: 12, labelGap: 15, tickFont: 22, digitW: 10,
  barW: 38, barStroke: 3, topBand: 4, capW: 12, errW: 1.5, axisW: 2.4, bracketW: 2, starFont: 34, starW: 15.5, starGap: 18, plusFont: 32, minusFont: 30, mpaY: 1101, canaY: 1146.5, signDx: -1 });
drawBarChart({ id: 'panel-f', values: panelFValues, errors: panelFErrors, ticks: panelFTicks, brackets: panelFBrackets, colors: ['#fff', '#000', PURPLE_E, RED_E],
  x0: 1526, step: 66.2, y0: 1055.5, yTop: 770, axisX: 1484, axisEnd: 1768.5, yTick: 12, xTick: 12, labelGap: 17, tickFont: 23, digitW: 10.5,
  barW: 41, barStroke: 3, topBand: 4, capW: 12, errW: 1.5, axisW: 2.4, bracketW: 2, starFont: 37, starW: 17, starGap: 19.5, plusFont: 33, minusFont: 31, mpaY: 1103, canaY: 1153.6, signDx: -1 });
</script>
</body>
</html>
